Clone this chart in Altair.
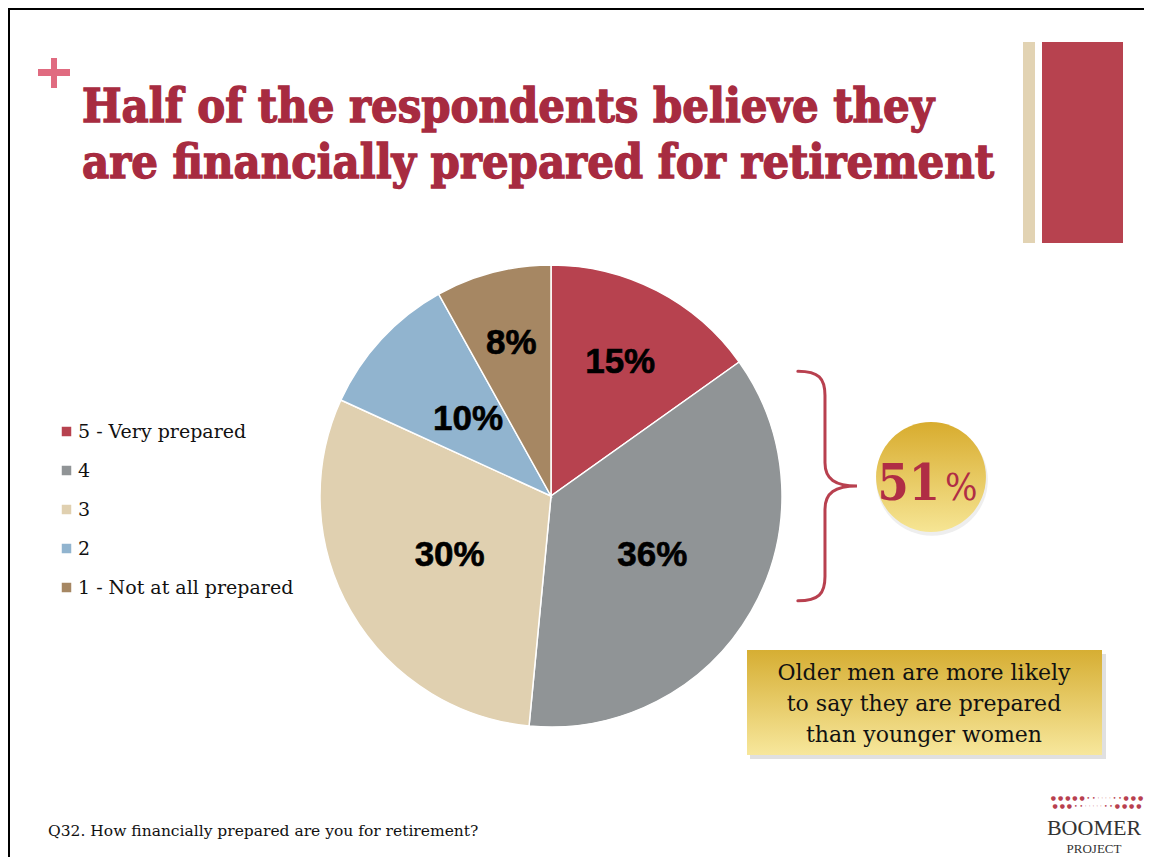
import altair as alt
import pandas as pd

# ---- data ----
categories = ["5 - Very prepared", "4", "3", "2", "1 - Not at all prepared"]
values = [15, 36, 30, 10, 8]
colors = ["#B7424F", "#909496", "#E0D0B0", "#91B4CF", "#A68763"]

title_lines = ["Half of the respondents believe they",
               "are financially prepared for retirement"]
callout_lines = ["Older men are more likely",
                 "to say they are prepared",
                 "than younger women"]
badge_number = "51"
badge_suffix = "%"
footnote = "Q32. How financially prepared are you for retirement?"
logo_top = "BOOMER"
logo_bottom = "PROJECT"

# ---- layout helpers (page px -> chart px, page margin 8) ----
def px(x):
    return x - 8

def py(y):
    return y - 8

W, H = 1136, 849
RED = "#B7424F"
TITLE_RED = "#A72B40"
CX, CY, R = px(551), py(496), 231

df = pd.DataFrame({"category": categories, "value": values,
                   "idx": list(range(len(values)))})
df["label"] = [f"{v}%" for v in values]
one = pd.DataFrame({"k": [0]})

def gold(dark, light):
    return alt.Gradient(gradient="linear",
                        stops=[alt.GradientStop(color=dark, offset=0),
                               alt.GradientStop(color=light, offset=1)],
                        x1=0, x2=0, y1=0, y2=1)

# ---- pie ----
pie = alt.Chart(df).mark_arc(outerRadius=R, stroke="white", strokeWidth=1.5).encode(
    theta=alt.Theta("value:Q", stack=True),
    order=alt.Order("idx:Q"),
    x=alt.value(CX), y=alt.value(CY),
    color=alt.Color(
        "category:N",
        scale=alt.Scale(domain=categories, range=colors),
        legend=alt.Legend(title=None, orient="none",
                          legendX=px(57), legendY=py(422),
                          symbolType="square", symbolSize=90,
                          symbolStrokeWidth=0, labelFont="DejaVu Serif",
                          labelFontSize=19, labelColor="#111",
                          labelLimit=0, rowPadding=19, labelOffset=2,
                          padding=0),
    ),
)

# labels: placed at each slice's mid-angle, radius depending on slice size
labels = alt.Chart(df).transform_window(
    cum="sum(value)", sort=[alt.SortField("idx")], frame=[None, 0]
).transform_joinaggregate(
    total="sum(value)"
).transform_calculate(
    mid="(datum.cum - datum.value / 2) / datum.total * 2 * PI",
    lr="datum.value >= 20 ? 117 : (datum.value >= 12 ? 151 : (datum.value >= 9 ? 113 : 158))",
).transform_calculate(
    lx=f"{CX} + datum.lr * sin(datum.mid)",
    ly=f"{CY} - datum.lr * cos(datum.mid)",
).mark_text(font="Liberation Sans", fontWeight="bold", fontSize=35,
            color="black", align="center", baseline="middle",
            stroke="black", strokeWidth=0.6).encode(
    x=alt.X("lx:Q", scale=None),
    y=alt.Y("ly:Q", scale=None),
    text="label:N",
)

# ---- decorations ----
def rect(x1, y1, x2, y2, **kw):
    return alt.Chart(one).mark_rect(**kw).encode(
        x=alt.value(px(x1)), x2=alt.value(px(x2)),
        y=alt.value(py(y1)), y2=alt.value(py(y2)))

border_top = alt.Chart(one).mark_rule(color="black", strokeWidth=2).encode(
    x=alt.value(0), x2=alt.value(W), y=alt.value(1))
border_left = alt.Chart(one).mark_rule(color="black", strokeWidth=2).encode(
    x=alt.value(1), y=alt.value(0), y2=alt.value(H))

plus_h = rect(38, 69, 70, 76, color="#E06B80")
plus_v = rect(51, 58, 57, 88, color="#E06B80")
bar_beige = rect(1023, 42, 1035, 243, color="#E2D3B3")
bar_red = rect(1042, 42, 1123, 243, color=RED)

title = alt.Chart(one).mark_text(
    text=title_lines, font="DejaVu Serif Condensed", fontWeight="bold",
    fontSize=46.6, color=TITLE_RED, stroke=TITLE_RED, strokeWidth=1.3,
    align="left", baseline="alphabetic",
    lineHeight=56).encode(x=alt.value(px(82)), y=alt.value(py(122)))

# brace
brace_path = ("M-0.26,-0.99 C-0.08,-0.99 -0.026,-0.93 -0.026,-0.78 "
              "L-0.026,-0.2 C-0.026,-0.06 0.06,0 0.25,0 "
              "C0.06,0 -0.026,0.06 -0.026,0.2 L-0.026,0.78 "
              "C-0.026,0.93 -0.08,0.99 -0.26,0.99")
brace = alt.Chart(one).mark_point(
    shape=brace_path, size=232 * 232, filled=False, stroke="#B8404F",
    strokeWidth=3, opacity=1, strokeCap="round").encode(
    x=alt.value(px(828)), y=alt.value(py(486)))

# badge
badge_shadow = alt.Chart(one).mark_point(
    shape="circle", size=3.1416 * 63 * 63, filled=True, color="#AAAAAA",
    opacity=0.2).encode(x=alt.value(px(932)), y=alt.value(py(480)))
badge = alt.Chart(one).mark_point(
    shape="circle", size=3.1416 * 62 * 62, filled=True, opacity=1,
    fill=gold("#D8AC2E", "#F6E594"), strokeWidth=0).encode(
    x=alt.value(px(931)), y=alt.value(py(477)))
badge_num = alt.Chart(one).mark_text(
    text=badge_number, font="DejaVu Serif Condensed", fontWeight="bold",
    fontSize=50, color="#B02D45", align="right", baseline="alphabetic").encode(
    x=alt.value(px(940)), y=alt.value(py(500)))
badge_pct = alt.Chart(one).mark_text(
    text=badge_suffix, font="DejaVu Serif Condensed", fontWeight="normal",
    fontSize=38, color="#B02D45", align="left", baseline="alphabetic").encode(
    x=alt.value(px(945)), y=alt.value(py(500)))

# callout box
box_shadow = rect(750, 654, 1106, 759, color="#999999", opacity=0.3)
box = rect(747, 650, 1102, 755, fill=gold("#D6AE33", "#F7E79C"))
callout = alt.Chart(one).mark_text(
    text=callout_lines, font="DejaVu Serif", fontSize=22, color="#111",
    align="center", baseline="middle", lineHeight=31).encode(
    x=alt.value(px(924)), y=alt.value(py(673)))

# footer
foot = alt.Chart(one).mark_text(
    text=footnote, font="DejaVu Serif", fontSize=15.5, color="#111",
    align="left", baseline="middle").encode(
    x=alt.value(px(48)), y=alt.value(py(831)))
logo1 = alt.Chart(one).mark_text(
    text=logo_top, font="Liberation Serif", fontSize=22, color="#333333",
    align="center", baseline="alphabetic").encode(
    x=alt.value(px(1094)), y=alt.value(py(835)))
logo2 = alt.Chart(one).mark_text(
    text=logo_bottom, font="Liberation Serif", fontSize=13, color="#333333",
    align="center", baseline="alphabetic").encode(
    x=alt.value(px(1094)), y=alt.value(py(853)))
logo_dots1 = alt.Chart(one).mark_text(
    text="● ● ● ● ● • • · · · · • • ● ● ●", font="DejaVu Sans", fontSize=6,
    color="#B8404F", align="center", baseline="middle").encode(
    x=alt.value(px(1097)), y=alt.value(py(798)))
logo_dots2 = alt.Chart(one).mark_text(
    text="● ● ● • • · · · · · • • ● ● ● ●", font="DejaVu Sans", fontSize=6,
    color="#B8404F", align="center", baseline="middle").encode(
    x=alt.value(px(1097)), y=alt.value(py(806)))

chart = alt.layer(
    border_top, border_left, plus_h, plus_v, bar_beige, bar_red, title,
    pie, labels, brace, badge_shadow, badge, badge_num, badge_pct,
    box_shadow, box, callout, foot, logo_dots1, logo_dots2, logo1, logo2,
).properties(width=W, height=H, padding=0, autosize="none",
             background="white").configure_view(stroke=None)

chart.save("out.html", embed_options={"renderer": "svg", "actions": False})
